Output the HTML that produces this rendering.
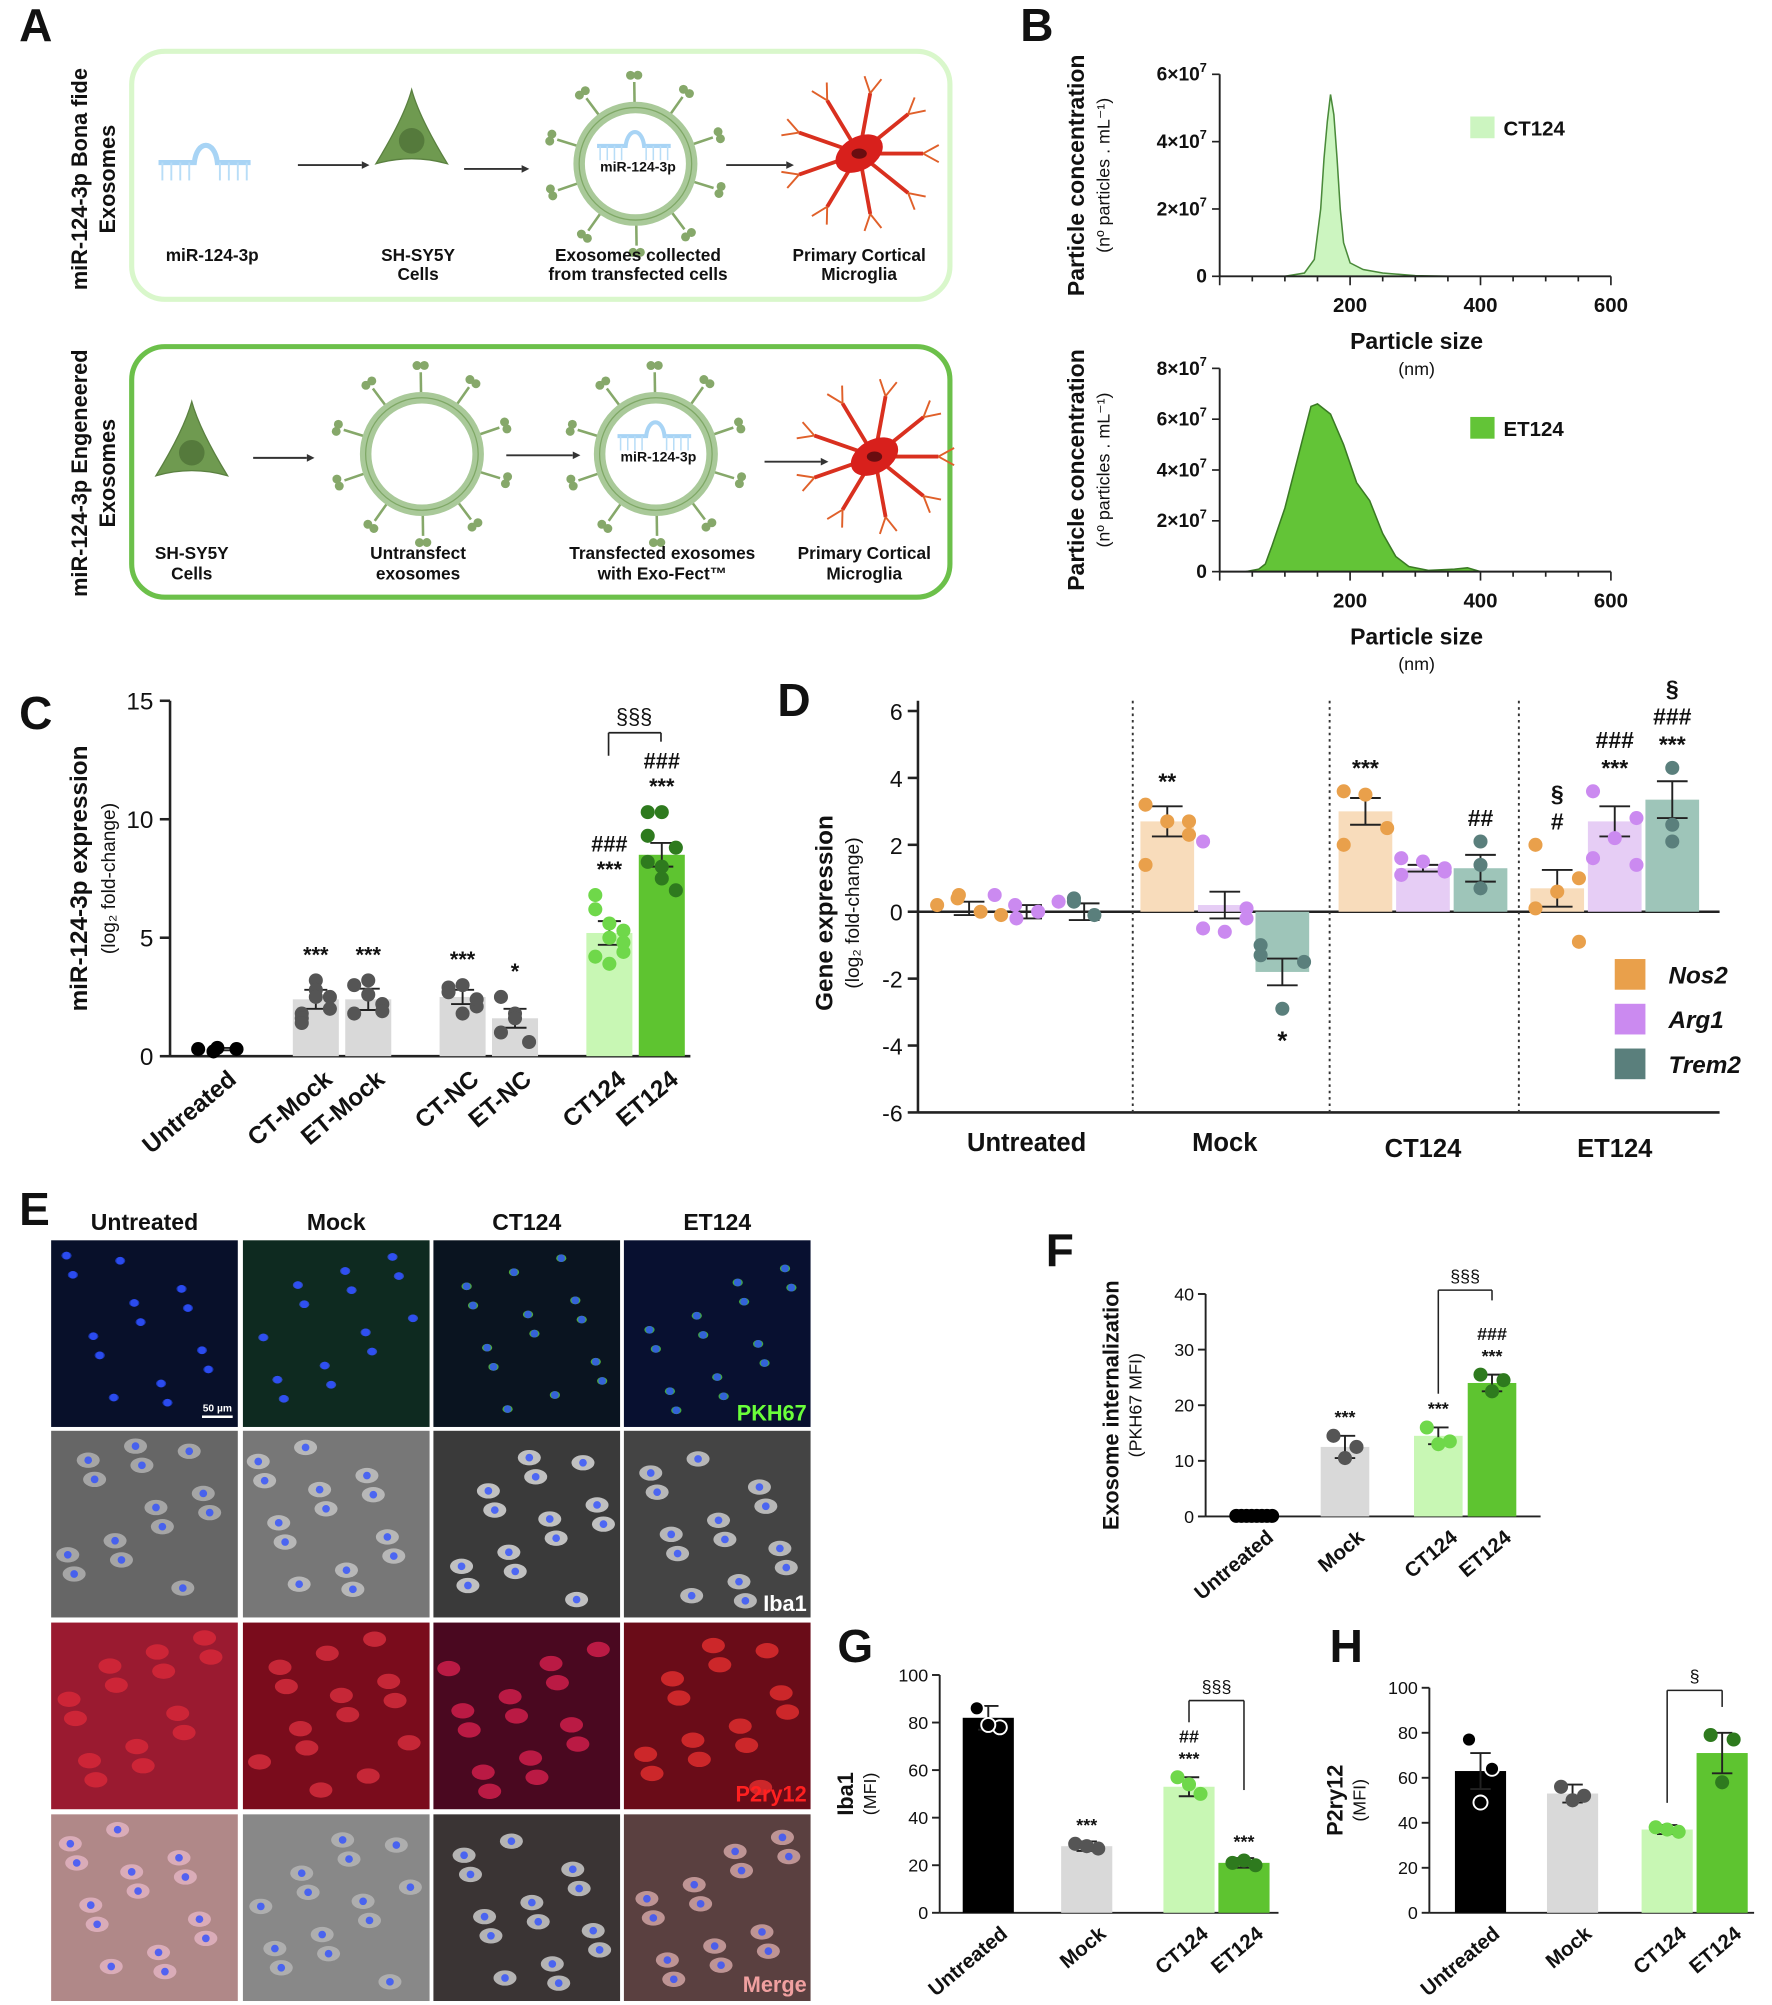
<!DOCTYPE html>
<html><head><meta charset="utf-8"><style>
html,body{margin:0;padding:0;background:#fff;}
svg{display:block;font-family:"Liberation Sans",Arial,sans-serif;}
</style></head><body>
<svg id="fig" xmlns="http://www.w3.org/2000/svg" width="1772" height="2005" viewBox="0 0 1386 1568">
<rect x="0" y="0" width="1386" height="1568" fill="#fff"/>
</svg>
<script>
// ---------- DATA ----------
const bCtSizes=[100,130,145,155,160,165,170,175,180,185,190,200,220,250,300,350];
const bCtConc=[0,0.1,0.5,2,3.5,4.6,5.4,4.8,3.5,2,1,0.4,0.2,0.1,0.02,0];
const bEtSizes=[40,60,70,80,100,120,140,150,170,190,210,230,250,270,290,320,360,380,400];
const bEtConc=[0,0.1,0.3,1,2.5,4.5,6.5,6.6,6.2,5,3.5,2.8,1.5,0.6,0.2,0.05,0.1,0.15,0];

const cCats=['Untreated','CT-Mock','ET-Mock','CT-NC','ET-NC','CT124','ET124'];
const cVals=[0.3,2.4,2.4,2.5,1.6,5.2,8.5];
const cErr=[0.05,0.4,0.45,0.3,0.4,0.5,0.5];
const cPts=[[0.3,0.35,0.3,0.2],[1.8,3.2,2.5,1.6,2.8,2.0,1.4,2.5],[3.0,2.6,2.2,1.8,3.2,1.9],[2.9,3.0,2.1,2.7,1.8,2.4],[1.0,1.8,0.6,2.5,1.6],[4.2,3.9,5.3,6.2,5.6,4.8,6.8,5.0,4.4],[10.3,10.3,8.8,8.2,7.5,7.0,9.3,8.0]];
const cStars=['','***','***','***','*','###\n***','###\n***'];

const dGroups=['Untreated','Mock','CT124','ET124'];
const dGenes=['Nos2','Arg1','Trem2'];
const dVals=[[0.1,0.0,0.0],[2.7,0.2,-1.8],[3.0,1.3,1.3],[0.7,2.7,3.35]];
const dErr=[[0.2,0.2,0.25],[0.45,0.4,0.4],[0.4,0.1,0.4],[0.55,0.45,0.55]];
const dPts=[[[0.2,-0.1,0.5,0.4,0.0],[0.5,0.3,-0.2,0.2,0.0],[0.3,-0.1,0.4]],
 [[3.2,2.3,2.7,1.4,2.7],[2.1,0.1,-0.6,-0.5,-0.2],[-1.3,-1.5,-2.9,-1.0]],
 [[3.6,2.5,3.5,2.0],[1.6,1.3,1.5,1.1,1.2],[2.1,1.4,0.7]],
 [[2.0,1.0,0.6,0.1,-0.9],[3.6,2.8,2.2,1.6,1.4],[4.3,2.6,2.1]]];
const dAnn=[['','',''],['**','','*'],['***','','##'],['§\n#','###\n***','§\n###\n***']];

const fCats=['Untreated','Mock','CT124','ET124'];
const fVals=[0.2,12.5,14.5,24];
const fErr=[0.1,2,1.5,1.5];
const fPts=[[0.1,0.1,0.1,0.1,0.1,0.1,0.1,0.1],[14.5,12.5,10.5],[16,13.5,13],[25.5,24.5,22.5]];
const fAnn=['','***','***','###\n***'];

const gCats=['Untreated','Mock','CT124','ET124'];
const gVals=[82,28,53,21];
const gErr=[5,2,4,2];
const gPts=[[86,78,79],[29,27,28],[57,50,54],[21,20,22]];
const gAnn=['','***','##\n***','***'];

const hCats=['Untreated','Mock','CT124','ET124'];
const hVals=[63,53,37,71];
const hErr=[8,4,2,9];
const hPts=[[77,64,49],[56,52,50],[38,36,37],[79,77,58]];

// ---------- HELPERS ----------
const NS='http://www.w3.org/2000/svg';
const svg=document.getElementById('fig');
function mk(tag,attrs,name,parent){
  const el=document.createElementNS(NS,tag);
  for(const k in attrs) el.setAttribute(k,attrs[k]);
  
  
  (parent||svg).appendChild(el);
  return el;
}
function txt(x,y,s,size,name,o){
  o=o||{};
  const el=mk('text',{x:x,y:y,'font-size':size,'font-weight':o.w||'bold','text-anchor':o.a||'middle',fill:o.c||'#111','font-style':o.i||'normal'},name,o.p);
  if(o.r!==undefined) el.setAttribute('transform','rotate('+o.r+' '+x+' '+y+')');
  el.textContent=s;
  return el;
}
function line(x1,y1,x2,y2,name,sw,c,dash){
  const a={x1:x1,y1:y1,x2:x2,y2:y2,stroke:c||'#222','stroke-width':sw||1.5};
  if(dash) a['stroke-dasharray']=dash;
  return mk('line',a,name);
}
function multi(x,yBottom,s,size,name,lh){
  const parts=s.split('\n');
  for(let i=0;i<parts.length;i++){
    txt(x,yBottom-(parts.length-1-i)*(lh||size*0.95),parts[i],size,name,{w:'bold'});
  }
}

// ---------- PANEL LABELS ----------
[['A',15,32],['B',798,32],['C',15,570],['D',608,560],['E',15,958],['F',818,990],['G',655,1300],['H',1040,1300]].forEach(p=>{
  txt(p[1],p[2],p[0],36,'panel-label-'+p[0].toLowerCase(),{a:'start'});
});

// ---------- PANEL A ----------
mk('rect',{x:103,y:40,width:640,height:194,rx:26,fill:'none',stroke:'#d9f7cb','stroke-width':4},'bona-fide-box');
mk('rect',{x:103,y:271,width:640,height:196,rx:26,fill:'none',stroke:'#6cc04a','stroke-width':4},'engineered-box');
txt(68,140,'miR-124-3p Bona fide',17,'bona-fide-label',{r:-90});
txt(90,140,'Exosomes',17,'bona-fide-label-2',{r:-90});
txt(68,370,'miR-124-3p Engeneered',17,'engineered-label',{r:-90});
txt(90,370,'Exosomes',17,'engineered-label-2',{r:-90});
function rna(x,y,s){
  const g=mk('g',{transform:'translate('+x+','+y+') scale('+s+')'},'mirna-icon');
  mk('path',{d:'M0 0 H28 C30 -18 44 -18 46 0 H72',fill:'none',stroke:'#a8d4f5','stroke-width':4},'mirna-strand',g);
  for(let i=0;i<8;i++){const xx=i<4?3+i*7:48+(i-4)*7;mk('line',{x1:xx,y1:0,x2:xx,y2:14,stroke:'#b8ddf7','stroke-width':1.5},'mirna-base',g);}
}
function cell(x,y){
  mk('path',{d:'M'+x+' '+(y-42)+' Q'+(x+6)+' '+(y-20)+' '+(x+28)+' '+(y+16)+' Q'+x+' '+(y+8)+' '+(x-28)+' '+(y+16)+' Q'+(x-6)+' '+(y-20)+' '+x+' '+(y-42)+'Z',fill:'#6f9a50',stroke:'#5a8040'},'sh-sy5y-cell');
  mk('circle',{cx:x,cy:y-2,r:10,fill:'#557a3c'},'cell-nucleus');
}
function exo(x,y,label){
  for(let i=0;i<10;i++){const a=i*Math.PI/5+0.3;const x1=x+Math.cos(a)*48,y1=y+Math.sin(a)*48,x2=x+Math.cos(a)*64,y2=y+Math.sin(a)*64;
    line(x1,y1,x2,y2,'exosome-spike',2,'#86a86a');
    mk('circle',{cx:x2+Math.cos(a+0.5)*6,cy:y2+Math.sin(a+0.5)*6,r:3.5,fill:'#86a86a'},'exosome-spike-tip');
    mk('circle',{cx:x2+Math.cos(a-0.5)*6,cy:y2+Math.sin(a-0.5)*6,r:3.5,fill:'#86a86a'},'exosome-spike-tip');}
  mk('circle',{cx:x,cy:y,r:44,fill:'none',stroke:'#a9c999','stroke-width':9},'exosome-membrane');
  mk('circle',{cx:x,cy:y,r:44,fill:'none',stroke:'#7fa866','stroke-width':1},'exosome-membrane-line');
  if(label){rna(x-30,y-14,0.8);txt(x+2,y+6,'miR-124-3p',11,'exosome-cargo-label');}
}
function microglia(x,y){
  for(let i=0;i<9;i++){const a=i*Math.PI*2/9;const x2=x+Math.cos(a)*50,y2=y+Math.sin(a)*48;
    line(x,y,x2,y2,'microglia-branch',3,'#d9301f');
    line(x2,y2,x2+Math.cos(a+0.5)*14,y2+Math.sin(a+0.5)*14,'microglia-twig',1.5,'#e0602a');
    line(x2,y2,x2+Math.cos(a-0.5)*14,y2+Math.sin(a-0.5)*14,'microglia-twig',1.5,'#e0602a');}
  mk('ellipse',{cx:x,cy:y,rx:20,ry:13,fill:'#d8201c',transform:'rotate(-30 '+x+' '+y+')'},'microglia-body');
  mk('ellipse',{cx:x,cy:y,rx:6,ry:4,fill:'#6a0d10'},'microglia-nucleus');
}
function arrow(x1,x2,y){line(x1,y,x2,y,'process-arrow',1.5,'#333');mk('path',{d:'M'+x2+' '+(y-3)+' L'+(x2+6)+' '+y+' L'+x2+' '+(y+3)+'Z',fill:'#333'},'arrow-head');}
rna(124,127,1);cell(322,112);exo(497,128,true);microglia(672,120);
arrow(233,283,129);arrow(363,408,132);arrow(568,615,129);
[[166,'miR-124-3p',''],[327,'SH-SY5Y','Cells'],[499,'Exosomes  collected','from transfected cells'],[672,'Primary  Cortical','Microglia']].forEach(t=>{txt(t[0],204,t[1],13.5,'step-label');if(t[2])txt(t[0],219,t[2],13.5,'step-label');});
cell(150,356);exo(330,355,false);exo(513,355,true);microglia(684,357);
arrow(198,240,358);arrow(396,448,356);arrow(598,642,361);
[[150,'SH-SY5Y','Cells'],[327,'Untransfect','exosomes'],[518,'Transfected exosomes','with Exo-Fect\u2122'],[676,'Primary  Cortical','Microglia']].forEach(t=>{txt(t[0],437,t[1],13.5,'step-label');txt(t[0],453,t[2],13.5,'step-label');});

// ---------- PANEL B ----------
function distChart(x0,y0,yTop,ymax,ticks,sizes,conc,fill,stroke,legend,ly,tag){
  const xs=v=>x0+v*0.51, ys=v=>y0-(v/ymax)*(y0-yTop);
  let d='M'+xs(sizes[0])+' '+ys(0);
  for(let i=0;i<sizes.length;i++) d+=' L'+xs(sizes[i]).toFixed(1)+' '+ys(conc[i]).toFixed(1);
  d+=' L'+xs(sizes[sizes.length-1])+' '+ys(0)+'Z';
  mk('path',{d:d,fill:fill,stroke:stroke,'stroke-width':1.2},'distribution-'+tag);
  line(x0,y0,x0+306,y0,'x-axis-'+tag,1.5);line(x0,yTop,x0,y0,'y-axis-'+tag,1.5);
  for(let v=0;v<=600;v+=50){const xx=xs(v);line(xx,y0,xx,y0+(v%200==0?7:4),'x-tick-'+tag,1.3);}
  [200,400,600].forEach(v=>txt(xs(v),y0+28,String(v),16,'x-tick-label-'+tag));
  ticks.forEach((t,i)=>{const yy=ys(t.v);line(x0-6,yy,x0,yy,'y-tick-'+tag,1.3);
    const e=txt(x0-10,yy+5,t.m,15,'y-tick-label-'+tag,{a:'end'});
    if(t.e){const s=mk('tspan',{dy:-7,'font-size':10},'y-tick-exp-'+tag,e);s.textContent=t.e;}});
  mk('rect',{x:1150,y:ly-9,width:19,height:17,fill:fill},'legend-swatch-'+tag);
  txt(1176,ly+6,legend,16,'legend-label-'+tag,{a:'start'});
  txt(1108,y0+57,'Particle size',18,'x-axis-title-'+tag);
  txt(1108,y0+77,'(nm)',14,'x-axis-unit-'+tag,{w:'normal'});
  txt(848,(y0+yTop)/2,'Particle concentration',18,'y-axis-title-'+tag,{r:-90});
  txt(868,(y0+yTop)/2,'(n\u00ba particles . mL\u207b\u00b9)',14,'y-axis-unit-'+tag,{r:-90,w:'normal'});
}
distChart(954,216,58,6e7,[{v:0,m:'0'},{v:2e7,m:'2\u00d710',e:'7'},{v:4e7,m:'4\u00d710',e:'7'},{v:6e7,m:'6\u00d710',e:'7'}],bCtSizes,bCtConc.map(v=>v*1e7),'#ccf5c0','#4a8a3a','CT124',100,'ct124');
distChart(954,447,288,8e7,[{v:0,m:'0'},{v:2e7,m:'2\u00d710',e:'7'},{v:4e7,m:'4\u00d710',e:'7'},{v:6e7,m:'6\u00d710',e:'7'},{v:8e7,m:'8\u00d710',e:'7'}],bEtSizes,bEtConc.map(v=>v*1e7),'#63c437','#3a7a24','ET124',335,'et124');

function errBar(x,yv,ye1,ye2,w,name){line(x,ye1,x,ye2,name,1.5);line(x-w,ye1,x+w,ye1,name,1.5);line(x-w,ye2,x+w,ye2,name,1.5);}

// ---------- PANEL C ----------
(function(){
  const y0=826,yTop=548,ymax=15,ys=v=>y0-v/ymax*(y0-yTop);
  const slot=[0,1.83,2.83,4.63,5.63,7.43,8.43];
  const xs=i=>172+slot[i]*41;
  const fills=['#000','#d9d9d9','#d9d9d9','#d9d9d9','#d9d9d9','#c8f7b4','#5ec430'];
  const dots=['#000','#555','#555','#555','#555','#6fd84a','#2e7a1e'];
  line(133,548,133,y0,'y-axis-c',2);line(133,y0,540,y0,'x-axis-c',2);
  [0,5,10,15].forEach(v=>{line(125,ys(v),133,ys(v),'y-tick-c',2);txt(120,ys(v)+7,String(v),19,'y-tick-label-c',{a:'end',w:'normal'});});
  txt(68,687,'miR-124-3p expression',19,'y-axis-title-c',{r:-90});
  txt(90,687,'(log\u2082 fold-change)',15,'y-axis-unit-c',{r:-90,w:'normal'});
  cCats.forEach((c,i)=>{
    const x=xs(i);
    if(i>0) mk('rect',{x:x-18,y:ys(cVals[i]),width:36,height:y0-ys(cVals[i]),fill:fills[i]},'bar-'+c.toLowerCase());
    errBar(x,0,ys(cVals[i]+cErr[i]),ys(cVals[i]-cErr[i]),9,'error-bar-'+c.toLowerCase());
    cPts[i].forEach((p,j)=>mk('circle',{cx:x+((j%3)-1)*11+(i==0?j*4-6:0),cy:ys(p),r:5.5,fill:dots[i]},'point-'+c.toLowerCase()));
    if(cStars[i]) multi(x,ys(Math.max(...cPts[i]))-14,cStars[i],17,'significance-'+c.toLowerCase(),20);
    txt(x+14,y0+20,c,19,'x-label-'+c.toLowerCase(),{a:'end',r:-40});
  });
  line(476,573,476,591,'bracket-c',1.3);line(476,573,517,573,'bracket-c',1.3);line(517,573,517,580,'bracket-c',1.3);
  txt(496,566,'§§§',17,'bracket-label-c',{w:'normal'});
})();

// ---------- PANEL D ----------
(function(){
  const y0=713,ys=v=>y0-v/6*(713-556);
  const gx=[803,958,1113,1263];
  const barF=['#f8dcbb','#e6cdf5','#9ec5b9'],dotF=['#e9a04b','#cb8af0','#5a7f7c'];
  line(718,548,718,870,'y-axis-d',2);line(718,y0,1345,y0,'zero-line-d',2);line(718,870,1345,870,'x-axis-d',2);
  [-6,-4,-2,0,2,4,6].forEach(v=>{line(710,ys(v),718,ys(v),'y-tick-d',2);txt(706,ys(v)+7,String(v),18,'y-tick-label-d',{a:'end',w:'normal'});});
  [886,1040,1188].forEach(x=>line(x,548,x,870,'group-separator',1.5,'#333','2 3'));
  txt(651,714,'Gene expression',19,'y-axis-title-d',{r:-90});
  txt(672,714,'(log\u2082 fold-change)',15,'y-axis-unit-d',{r:-90,w:'normal'});
  dGroups.forEach((g,gi)=>{
    txt(gx[gi],gi<2?900:905,g,20,'x-label-'+g.toLowerCase());
    dGenes.forEach((gn,k)=>{
      const x=gx[gi]+(k-1)*45, v=dVals[gi][k];
      if(gi>0) mk('rect',{x:x-21,y:Math.min(ys(v),y0),width:42,height:Math.abs(ys(v)-y0),fill:barF[k]},'bar-'+g.toLowerCase()+'-'+gn.toLowerCase());
      errBar(x,0,ys(v+dErr[gi][k]),ys(v-dErr[gi][k]),12,'error-bar-'+g.toLowerCase()+'-'+gn.toLowerCase());
      const pts=dPts[gi][k];
      pts.forEach((p,j)=>mk('circle',{cx:x+(pts.length>3?[-1,1,0,-1,1][j]*17:0)+(gi==0?(j%2?8:-8):0),cy:ys(p),r:5.5,fill:dotF[k]},'point-'+gn.toLowerCase()));
      const a=dAnn[gi][k];
      if(a){ if(v<0) txt(x,ys(Math.min(...pts))+32,a,20,'significance-'+gn.toLowerCase());
        else multi(x,ys(Math.max(...pts))-12,a,18,'significance-'+gn.toLowerCase(),22); }
    });
  });
  dGenes.forEach((gn,k)=>{mk('rect',{x:1263,y:750+k*35,width:24,height:24,fill:dotF[k]},'legend-swatch-'+gn.toLowerCase());
    txt(1305,769+k*35,gn,19,'legend-label-'+gn.toLowerCase(),{a:'start',i:'italic'});});
})();

// ---------- PANEL E ----------
(function(){
  const cols=['Untreated','Mock','CT124','ET124'], cx=[40,190,339,488], ry=[970,1119,1269,1419];
  cols.forEach((c,i)=>txt(cx[i]+73,962,c,18,'column-header-'+c.toLowerCase()));
  const bg=[['#08102a','#0e2a20','#0a1420','#081030'],['#666','#777','#3a3a3a','#444'],['#9a1a30','#7a0c1c','#4a0820','#6a0c18'],['#b08888','#888','#3a3434','#5a4040']];
  const cellC=[['#2244dd','#3a5aee','#66dd44','#55dd44'],['#bbb','#ccc','#eee','#ddd'],['#dd2a3a','#e03040','#e02050','#ee3030'],['#e8b8c8','#bbb','#ddd','#e0b0b0']];
  for(let r=0;r<4;r++)for(let c=0;c<4;c++){
    mk('rect',{x:cx[c],y:ry[r],width:146,height:146,fill:bg[r][c]},'micrograph-r'+(r+1)+'-c'+(c+1));
    for(let k=0;k<14;k++){
      const px=cx[c]+12+((k*53+c*31+r*17)%122), py=ry[r]+12+((k*37+c*23+r*11)%122);
      mk('ellipse',{cx:px,cy:py,rx:r==0?4:9,ry:r==0?3:6,fill:cellC[r][c],opacity:0.75},'cell-blob');
      if(r!=2) mk('circle',{cx:px,cy:py,r:3,fill:'#3050ff',opacity:0.8},'cell-nucleus-blue');
    }
  }
  txt(170,1104,'50 µm',8,'scale-bar-label',{c:'#fff'});line(158,1108,182,1108,'scale-bar',2,'#fff');
  txt(631,1111,'PKH67',17,'stain-label-pkh67',{a:'end',c:'#6aff3a'});
  txt(631,1260,'Iba1',17,'stain-label-iba1',{a:'end',c:'#fff'});
  txt(631,1409,'P2ry12',17,'stain-label-p2ry12',{a:'end',c:'#ff2020'});
  txt(631,1558,'Merge',17,'stain-label-merge',{a:'end',c:'#f0a0a0'});
})();

// ---------- small bar charts F/G/H ----------
function smallChart(o){
  const ys=v=>o.y0-v/o.ymax*(o.y0-o.yTop);
  line(o.ax,o.yTop,o.ax,o.y0,'y-axis-'+o.t,1.5);line(o.ax,o.y0,o.xEnd,o.y0,'x-axis-'+o.t,1.5);
  o.ticks.forEach(v=>{line(o.ax-6,ys(v),o.ax,ys(v),'y-tick-'+o.t,1.5);txt(o.ax-9,ys(v)+5,String(v),14,'y-tick-label-'+o.t,{a:'end',w:'normal'});});
  txt(o.ax-68,(o.y0+o.yTop)/2,o.title,17,'y-axis-title-'+o.t,{r:-90});
  txt(o.ax-50,(o.y0+o.yTop)/2,o.unit,14,'y-axis-unit-'+o.t,{r:-90,w:'normal'});
  const fills=['#000','#d9d9d9','#c8f7b4','#5ec430'],dots=['#000','#555','#6fd84a','#2e7a1e'];
  o.cats.forEach((c,i)=>{
    const x=o.xs[i],v=o.vals[i];
    if(v>1) mk('rect',{x:x-o.bw/2,y:ys(v),width:o.bw,height:o.y0-ys(v),fill:fills[i]},'bar-'+c.toLowerCase());
    errBar(x,0,ys(v+o.err[i]),ys(Math.max(0,v-o.err[i])),8,'error-bar-'+c.toLowerCase());
    o.pts[i].forEach((p,j)=>mk('circle',{cx:x+(o.pts[i].length>3?(j-3.5)*4:[-1,1,0][j]*9),cy:ys(p),r:5.5,fill:(i==0&&o.t!='f')?'#000':dots[i],stroke:(i==0&&o.t!='f')?'#fff':'none','stroke-width':1.5},'point-'+c.toLowerCase()));
    if(o.ann&&o.ann[i]) multi(x,ys(Math.max(...o.pts[i]))-10,o.ann[i],14,'significance-'+c.toLowerCase(),17);
    txt(x+16,o.y0+18,c,16,'x-label-'+c.toLowerCase(),{a:'end',r:-40});
  });
  if(o.br){line(o.xs[2],o.br[1],o.xs[2],o.br[0],'bracket-'+o.t,1.2);line(o.xs[2],o.br[0],o.xs[3],o.br[0],'bracket-'+o.t,1.2);line(o.xs[3],o.br[0],o.xs[3],o.br[2],'bracket-'+o.t,1.2);
    txt((o.xs[2]+o.xs[3])/2,o.br[0]-6,o.br[3],14,'bracket-label-'+o.t,{w:'normal'});}
}
smallChart({t:'f',ax:943,y0:1186,yTop:1012,ymax:40,xEnd:1205,ticks:[0,10,20,30,40],title:'Exosome internalization',unit:'(PKH67 MFI)',cats:fCats,vals:fVals,err:fErr,pts:fPts,ann:fAnn,xs:[981,1052,1125,1167],bw:38,br:[1009,1090,1017,'§§§']});
smallChart({t:'g',ax:735,y0:1496,yTop:1310,ymax:100,xEnd:1000,ticks:[0,20,40,60,80,100],title:'Iba1',unit:'(MFI)',cats:gCats,vals:gVals,err:gErr,pts:gPts,ann:gAnn,xs:[773,850,930,973],bw:40,br:[1330,1347,1400,'§§§']});
smallChart({t:'h',ax:1118,y0:1496,yTop:1320,ymax:100,xEnd:1372,ticks:[0,20,40,60,80,100],title:'P2ry12',unit:'(MFI)',cats:hCats,vals:hVals,err:hErr,pts:hPts,ann:null,xs:[1158,1230,1304,1347],bw:40,br:[1322,1410,1335,'§']});
</script>
</body></html>
